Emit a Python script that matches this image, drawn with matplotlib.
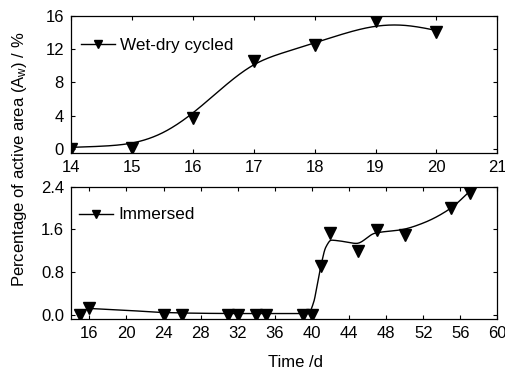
import numpy as np
import matplotlib
matplotlib.use('Agg')
import matplotlib.pyplot as plt

plt.rcParams['font.family'] = ['Liberation Sans', 'DejaVu Sans']
plt.rcParams['font.size'] = 12
plt.rcParams['mathtext.fontset'] = 'custom'
plt.rcParams['mathtext.rm'] = 'Liberation Sans'
plt.rcParams['mathtext.it'] = 'Liberation Sans'

wet_days = [14, 15, 16, 17, 18, 19, 20]
wet_area = [0.0, 0.1, 3.65, 10.55, 12.5, 15.45, 14.1]
wet_fit_days = [14, 14.5, 15, 15.5, 16, 16.5, 17, 17.5, 18, 18.5, 19, 19.5, 20]
wet_fit_area = [0.16, 0.3, 0.68, 1.9, 4.3, 7.4, 10.1, 11.6, 12.75, 13.9, 14.75, 14.85, 14.25]

# immersed
imm_days = [15, 16, 24, 26, 31, 32, 34, 35, 39, 40, 41, 42, 45, 47, 50, 55, 57]
imm_area = [0.0, 0.13, 0.0, 0.0, 0.0, 0.0, 0.0, 0.0, 0.0, 0.0, 0.92, 1.54, 1.19, 1.59, 1.5, 2.0, 2.28]
imm_fit_days = [16, 20, 24, 28, 32, 36, 39.6, 40.2, 40.6, 41.0, 41.5, 42.1, 42.8, 44.8, 46.8, 49.8, 52, 55, 57]
imm_fit_area = [0.125, 0.09, 0.05, 0.035, 0.03, 0.03, 0.03, 0.25, 0.6, 0.95, 1.27, 1.4, 1.39, 1.34, 1.53, 1.6, 1.72, 2.0, 2.31]


def natural_spline(x, y, n=400):
	x = np.asarray(x, float)
	y = np.asarray(y, float)
	k = len(x)
	h = np.diff(x)
	A = np.zeros((k, k))
	b = np.zeros(k)
	A[0, 0] = 1
	A[-1, -1] = 1
	for i in range(1, k - 1):
		A[i, i - 1] = h[i - 1]
		A[i, i] = 2 * (h[i - 1] + h[i])
		A[i, i + 1] = h[i]
		b[i] = 6 * ((y[i + 1] - y[i]) / h[i] - (y[i] - y[i - 1]) / h[i - 1])
	M = np.linalg.solve(A, b)
	xs = np.linspace(x[0], x[-1], n)
	j = np.clip(np.searchsorted(x, xs) - 1, 0, k - 2)
	t0 = x[j + 1] - xs
	t1 = xs - x[j]
	hj = h[j]
	ys = (M[j] * t0 ** 3 + M[j + 1] * t1 ** 3) / (6 * hj) \
		+ (y[j] / hj - M[j] * hj / 6) * t0 + (y[j + 1] / hj - M[j + 1] * hj / 6) * t1
	return xs, ys


def pchip(x, y, n=500):
	# monotone cubic (Fritsch-Carlson), keeps the steep step from overshooting
	x = np.asarray(x, float)
	y = np.asarray(y, float)
	h = np.diff(x)
	d = np.diff(y) / h
	m = np.zeros_like(y)
	for i in range(1, len(x) - 1):
		if d[i - 1] * d[i] > 0:
			w1 = 2 * h[i] + h[i - 1]
			w2 = h[i] + 2 * h[i - 1]
			m[i] = (w1 + w2) / (w1 / d[i - 1] + w2 / d[i])
	m[0] = d[0]
	m[-1] = d[-1]
	xs = np.linspace(x[0], x[-1], n)
	j = np.clip(np.searchsorted(x, xs) - 1, 0, len(x) - 2)
	t = (xs - x[j]) / h[j]
	h00 = 2 * t ** 3 - 3 * t ** 2 + 1
	h10 = t ** 3 - 2 * t ** 2 + t
	h01 = -2 * t ** 3 + 3 * t ** 2
	h11 = t ** 3 - t ** 2
	ys = h00 * y[j] + h10 * h[j] * m[j] + h01 * y[j + 1] + h11 * h[j] * m[j + 1]
	return xs, ys


fig = plt.figure(figsize=(5.06, 3.71), dpi=100)
ax1 = fig.add_axes([0.140, 0.588, 0.843, 0.369])
ax2 = fig.add_axes([0.140, 0.139, 0.843, 0.358])

for ax in (ax1, ax2):
	ax.tick_params(direction='in', top=True, right=True, length=3, width=0.8, pad=5, labelsize=12)
	for s in ax.spines.values():
		s.set_linewidth(0.9)

# top panel
fx, fy = natural_spline(wet_fit_days, wet_fit_area)
ax1.plot(fx, fy, color='black', lw=1.0)
ax1.plot(wet_days, wet_area, 'v', color='black', ms=8.5)
ax1.plot([], [], '-v', color='black', lw=1.0, ms=8.5, label='Wet-dry cycled')
ax1.set_xlim(14, 21)
ax1.set_ylim(-0.5, 16)
ax1.set_xticks(range(14, 22))
ax1.set_yticks([0, 4, 8, 12, 16])
ax1.legend(loc='upper left', bbox_to_anchor=(0.0, 0.914), frameon=False, handlelength=2.0,
	handletextpad=0.3, markerscale=0.6, fontsize=12.3, borderaxespad=0.2)

# bottom panel
fx, fy = pchip(imm_fit_days, imm_fit_area)
ax2.plot(fx, fy, color='black', lw=1.0)
ax2.plot(imm_days, imm_area, 'v', color='black', ms=8.5)
ax2.plot([], [], '-v', color='black', lw=1.0, ms=8.5, label='Immersed')
ax2.set_xlim(14, 60)
ax2.set_ylim(-0.08, 2.4)
ax2.set_xticks(range(16, 61, 4))
ax2.set_yticks([0.0, 0.8, 1.6, 2.4])
ax2.yaxis.set_major_formatter(matplotlib.ticker.FormatStrFormatter('%.1f'))
ax2.legend(loc='upper left', bbox_to_anchor=(-0.005, 0.92), frameon=False, handlelength=2.0,
	handletextpad=0.3, markerscale=0.6, fontsize=12.3, borderaxespad=0.2)
ax2.set_xlabel('Time /d', fontsize=12, labelpad=10)
ax2.xaxis.set_label_coords(0.526, -0.27)

fig.text(0.038, 0.571, 'Percentage of active area (A$_\\mathregular{w}$) / %',
	rotation=90, ha='center', va='center', fontsize=12)

fig.savefig('out.png', dpi=100)
